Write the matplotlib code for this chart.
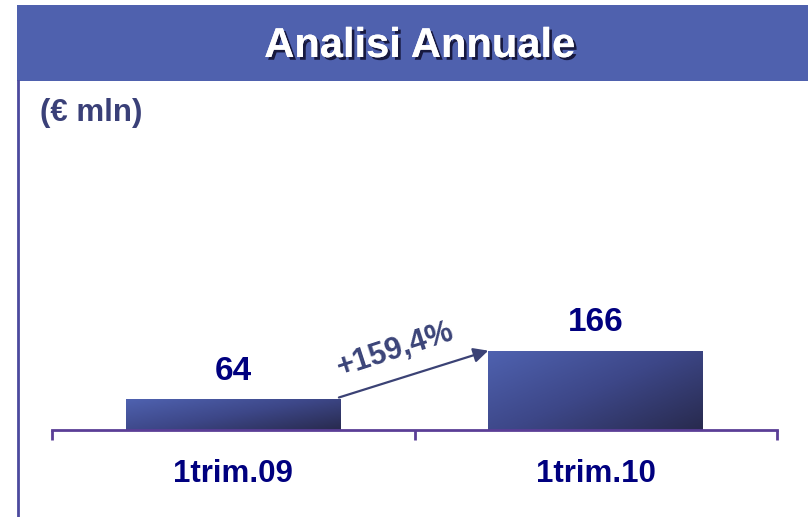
import numpy as np
import matplotlib
matplotlib.use("Agg")
import matplotlib.pyplot as plt
from matplotlib.colors import LinearSegmentedColormap
from matplotlib.patches import Rectangle
from matplotlib.lines import Line2D
import matplotlib.patheffects as pe

plt.rcParams["font.family"] = ["Liberation Sans", "DejaVu Sans"]

# Data
categories = ["1trim.09", "1trim.10"]
values = [64, 166]
growth_label = "+159,4%"
title = "Analisi Annuale"
unit_label = "(€ mln)"

W, H = 808, 517
fig = plt.figure(figsize=(W / 100, H / 100), dpi=100)
fig.patch.set_facecolor("white")

# Header band
band_left, band_top, band_bottom = 17, 5, 81
fig.patches.append(Rectangle((band_left / W, 1 - band_bottom / H),
                             (W - band_left) / W, (band_bottom - band_top) / H,
                             transform=fig.transFigure, facecolor="#4f61ae",
                             edgecolor="none", zorder=0))
fig.text(420 / W, 1 - 46 / H, title, ha="center", va="center", color="white",
         fontsize=30, fontweight="bold",
         path_effects=[pe.withSimplePatchShadow(offset=(2, -2), shadow_rgbFace="#111133", alpha=0.9),
                       pe.Normal()])

# Left frame rule
fig.lines.append(Line2D([18 / W, 18 / W], [0, 1 - band_bottom / H],
                        transform=fig.transFigure, color="#4c4a9e", lw=2))

fig.text(40 / W, 1 - 113 / H, unit_label, ha="left", va="center",
         color="#3a4078", fontsize=22.5, fontweight="bold")

# Plot area
ax_left, ax_right, ax_base, ax_top = 52, 777, 430, 81
ax = fig.add_axes([ax_left / W, 1 - ax_base / H, (ax_right - ax_left) / W, (ax_base - ax_top) / H])
ax.set_facecolor("none")

x = np.arange(len(categories))
bar_w = 0.593
bars = ax.bar(x, values, width=bar_w, color="none", edgecolor="none")

cmap = LinearSegmentedColormap.from_list("barfill", ["#4f62b0", "#3d4788", "#282a4e"])
ny, nx = 100, 200
u = np.linspace(0, 1, nx)[None, :]
v = np.linspace(0, 1, ny)[:, None]  # 0 at top row
grad = 0.55 * u + 0.45 * v
for b in bars:
    x0, w_, h_ = b.get_x(), b.get_width(), b.get_height()
    im = ax.imshow(grad, cmap=cmap, extent=[x0, x0 + w_, 0, h_], aspect="auto",
                   origin="upper", zorder=2, vmin=0, vmax=1)
    im.set_clip_path(b)

ax.set_xlim(-0.5, len(categories) - 0.5)
ax.set_ylim(0, 730)

for s in ["top", "right", "left"]:
    ax.spines[s].set_visible(False)
ax.spines["bottom"].set_color("#5b3e96")
ax.spines["bottom"].set_linewidth(2)
ax.set_yticks([])
ax.set_xticks(np.arange(len(categories) + 1) - 0.5)
ax.set_xticklabels([])
ax.tick_params(axis="x", which="major", direction="out", length=7, width=2, color="#5b3e96")
ax.set_xticks(x, minor=True)
ax.set_xticklabels(categories, minor=True)
ax.tick_params(axis="x", which="minor", length=0, pad=21, labelsize=22.5,
               labelcolor="#00007f")
for lbl in ax.get_xticklabels(minor=True):
    lbl.set_fontweight("bold")

# Value labels
for xi, val in zip(x, values):
    ax.annotate(f"{val}", (xi, val), xytext=(0, 9), textcoords="offset points",
                ha="center", va="bottom", fontsize=24, fontweight="bold", color="#00007f")

# Growth arrow between bar tops
x_start = x[0] + bar_w / 2
x_end = x[1] - bar_w / 2
ax.annotate("", xy=(x_end, values[1]), xytext=(x_start - 0.005, values[0] + 4),
            arrowprops=dict(arrowstyle="-|>", color="#3b4275", lw=1.6,
                            mutation_scale=22, shrinkA=0, shrinkB=0))
ax.annotate(growth_label, ((x_start + x_end) / 2, (values[0] + values[1]) / 2),
            xytext=(-14, 18), textcoords="offset points", ha="center", va="center",
            rotation=18, rotation_mode="anchor", fontsize=22, fontweight="bold",
            color="#3b4478")

fig.savefig("out.png", dpi=100)
